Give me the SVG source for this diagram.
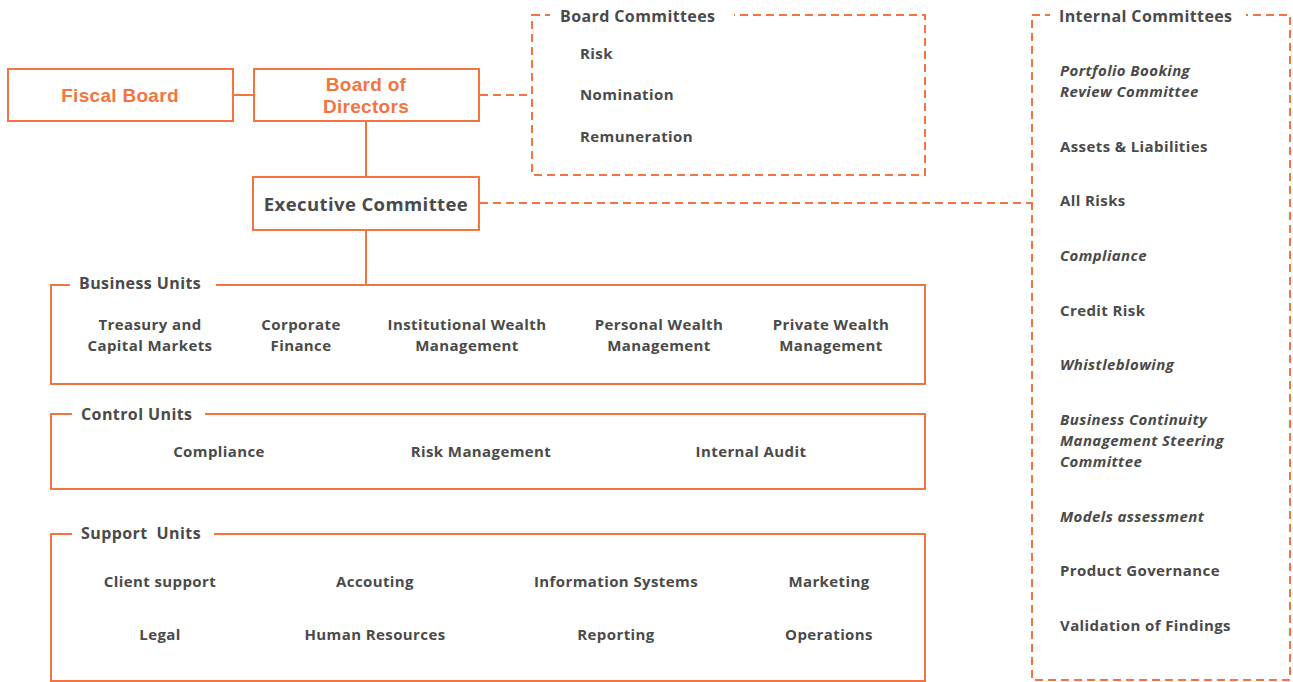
<svg xmlns="http://www.w3.org/2000/svg" width="1293" height="682" viewBox="0 0 1293 682">
<style>
.box{fill:#fff;stroke:#F47440;stroke-width:2}
.dash{fill:none;stroke:#F47440;stroke-width:2;stroke-dasharray:8 5}
.line{fill:none;stroke:#F47440;stroke-width:2}
.gap{fill:#fff;stroke:none}
text{font-family:"Open Sans","Liberation Sans",sans-serif;font-weight:700;fill:#4A4A4A;dominant-baseline:central;letter-spacing:0.4px}
.or{fill:#F47440;font-size:19px;font-family:"Liberation Sans",Arial,sans-serif;letter-spacing:0.3px}
.big{font-size:18.5px}
.t{font-size:16px}
.i{font-size:15px}
.it{font-style:italic}
.c{text-anchor:middle}
</style>
<rect width="1293" height="682" fill="#fff"/>
<g id="connectors">
<line class="line" x1="233" y1="95" x2="254" y2="95"/>
<line class="line" x1="366" y1="121" x2="366" y2="177"/>
<line class="line" x1="366" y1="230" x2="366" y2="285"/>
<line class="dash" x1="480" y1="95" x2="532" y2="95"/>
<line class="dash" x1="480" y1="203" x2="1032" y2="203"/>
</g>
<g id="fiscal-board">
<rect class="box" x="8" y="69" width="225" height="52"/>
<text class="or c" x="120" y="95">Fiscal Board</text>
</g>
<g id="board-of-directors">
<rect class="box" x="254" y="69" width="225" height="52"/>
<text class="or c" x="366" y="84">Board of</text>
<text class="or c" x="366" y="106">Directors</text>
</g>
<g id="executive-committee">
<rect class="box" x="253" y="177" width="226" height="53"/>
<text class="big c" x="366" y="203">Executive Committee</text>
</g>
<g id="board-committees">
<rect class="dash" x="532" y="15" width="393" height="160"/>
<rect class="gap" x="550" y="6" width="184" height="18"/>
<text class="t" x="560" y="16">Board Committees</text>
<text class="i" x="580" y="53">Risk</text>
<text class="i" x="580" y="94">Nomination</text>
<text class="i" x="580" y="136">Remuneration</text>
</g>
<g id="internal-committees">
<rect class="dash" x="1032" y="15" width="258" height="665"/>
<rect class="gap" x="1050" y="6" width="196" height="18"/>
<text class="t" x="1059" y="16">Internal Committees</text>
<text class="i it" x="1060" y="70">Portfolio Booking</text>
<text class="i it" x="1060" y="91">Review Committee</text>
<text class="i" x="1060" y="146">Assets &amp; Liabilities</text>
<text class="i" x="1060" y="200">All Risks</text>
<text class="i it" x="1060" y="255">Compliance</text>
<text class="i" x="1060" y="310">Credit Risk</text>
<text class="i it" x="1060" y="364">Whistleblowing</text>
<text class="i it" x="1060" y="419">Business Continuity</text>
<text class="i it" x="1060" y="440">Management Steering</text>
<text class="i it" x="1060" y="461">Committee</text>
<text class="i it" x="1060" y="516">Models assessment</text>
<text class="i" x="1060" y="570">Product Governance</text>
<text class="i" x="1060" y="625">Validation of Findings</text>
</g>
<g id="business-units">
<rect class="box" x="51" y="285" width="874" height="99"/>
<rect class="gap" x="70" y="275" width="146" height="18"/>
<text class="t" x="79" y="283">Business Units</text>
<text class="i c" x="150" y="324">Treasury and</text>
<text class="i c" x="150" y="345">Capital Markets</text>
<text class="i c" x="301" y="324">Corporate</text>
<text class="i c" x="301" y="345">Finance</text>
<text class="i c" x="467" y="324">Institutional Wealth</text>
<text class="i c" x="467" y="345">Management</text>
<text class="i c" x="659" y="324">Personal Wealth</text>
<text class="i c" x="659" y="345">Management</text>
<text class="i c" x="831" y="324">Private Wealth</text>
<text class="i c" x="831" y="345">Management</text>
</g>
<g id="control-units">
<rect class="box" x="51" y="414" width="874" height="75"/>
<rect class="gap" x="72" y="405" width="133" height="18"/>
<text class="t" x="81" y="414">Control Units</text>
<text class="i c" x="219" y="451">Compliance</text>
<text class="i c" x="481" y="451">Risk Management</text>
<text class="i c" x="751" y="451">Internal Audit</text>
</g>
<g id="support-units">
<rect class="box" x="51" y="534" width="874" height="147"/>
<rect class="gap" x="72" y="525" width="142" height="18"/>
<text class="t" x="81" y="533" xml:space="preserve">Support  Units</text>
<text class="i c" x="160" y="581">Client support</text>
<text class="i c" x="375" y="581">Accouting</text>
<text class="i c" x="616" y="581">Information Systems</text>
<text class="i c" x="829" y="581">Marketing</text>
<text class="i c" x="160" y="634">Legal</text>
<text class="i c" x="375" y="634">Human Resources</text>
<text class="i c" x="616" y="634">Reporting</text>
<text class="i c" x="829" y="634">Operations</text>
</g>
</svg>
